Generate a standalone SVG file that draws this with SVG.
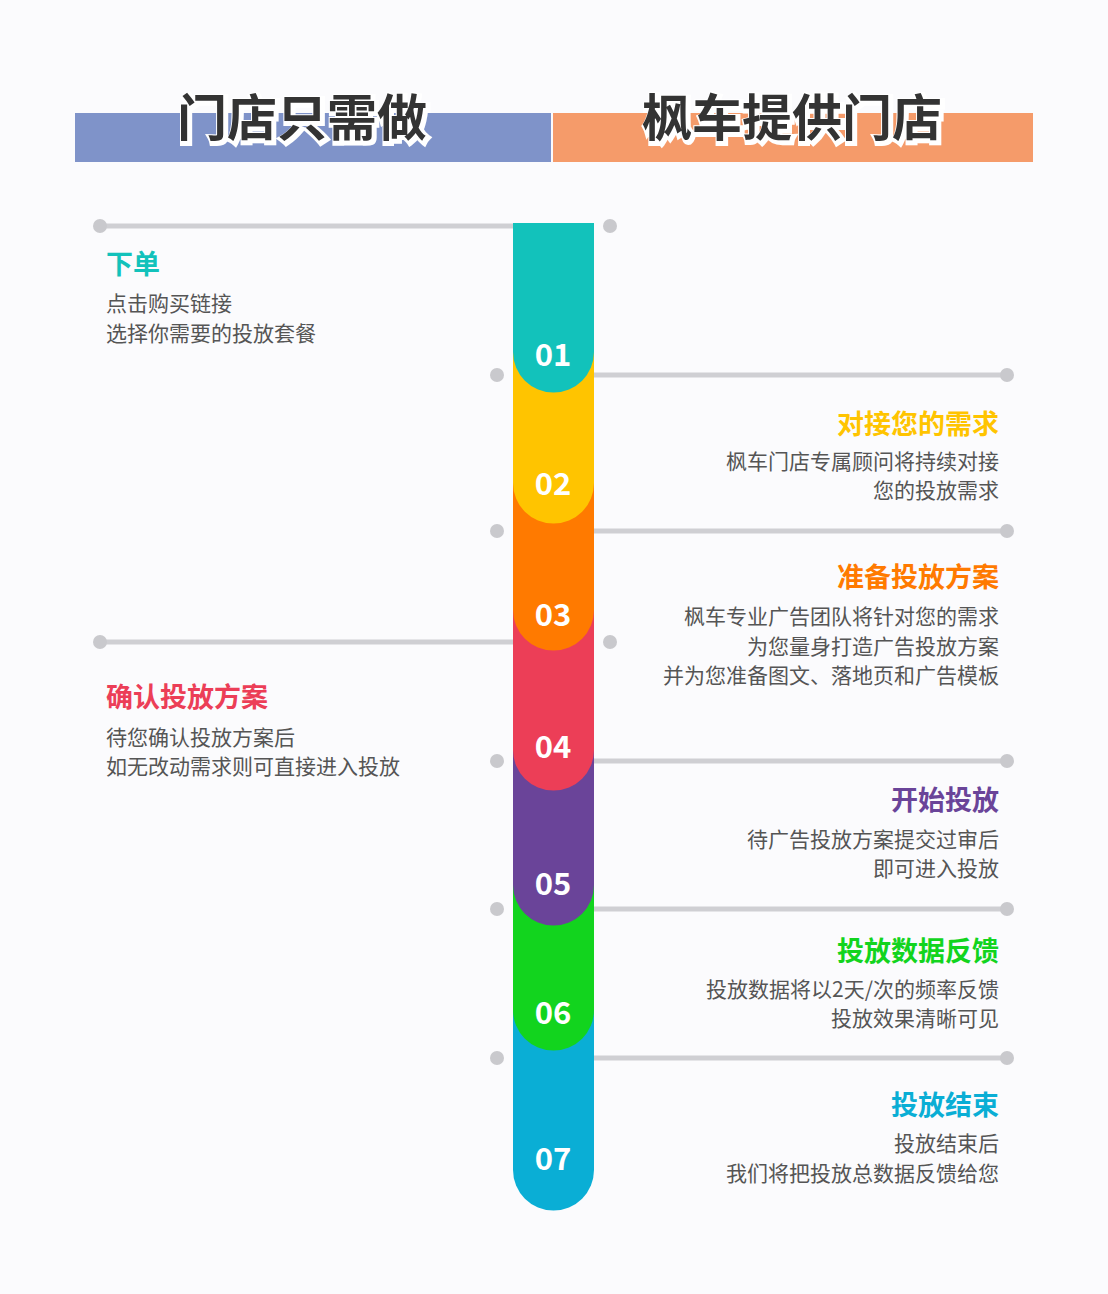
<svg xmlns="http://www.w3.org/2000/svg" width="1108" height="1294" viewBox="0 0 1108 1294">
<style>
text{font-family:"Noto Sans CJK SC","Noto Sans",sans-serif}
.hd{font-size:50px;font-weight:bold;fill:#333;text-anchor:middle}
.num{font-size:31px;font-weight:bold;fill:#fff;text-anchor:middle}
.t{font-size:27px;font-weight:bold}
.b{font-size:21px;fill:#555}
.r{text-anchor:end}
.ln{stroke:#cfcfd3;stroke-width:5}
.dot{fill:#c9c9cd}
</style>
<rect width="1108" height="1294" fill="#fbfbfd"/>
<g id="header">
<rect x="75" y="113" width="476" height="49" fill="#7f93c9"/>
<rect x="553" y="113" width="480" height="49" fill="#f59b6a"/>
<text class="hd" x="304" y="138" fill="#fff" stroke="#fff" stroke-width="6">门店只需做</text>
<text class="hd" x="302" y="136">门店只需做</text>
<text class="hd" x="794" y="138" stroke="#fff" stroke-width="6">枫车提供门店</text>
<text class="hd" x="792" y="136">枫车提供门店</text>
</g>
<g id="connectors">
<line class="ln" x1="100" y1="226" x2="513" y2="226"/><circle class="dot" cx="100" cy="226" r="7"/><circle class="dot" cx="610" cy="226" r="7"/>
<line class="ln" x1="594" y1="375" x2="1007" y2="375"/><circle class="dot" cx="1007" cy="375" r="7"/><circle class="dot" cx="497" cy="375" r="7"/>
<line class="ln" x1="594" y1="531" x2="1007" y2="531"/><circle class="dot" cx="1007" cy="531" r="7"/><circle class="dot" cx="497" cy="531" r="7"/>
<line class="ln" x1="100" y1="642" x2="513" y2="642"/><circle class="dot" cx="100" cy="642" r="7"/><circle class="dot" cx="610" cy="642" r="7"/>
<line class="ln" x1="594" y1="761" x2="1007" y2="761"/><circle class="dot" cx="1007" cy="761" r="7"/><circle class="dot" cx="497" cy="761" r="7"/>
<line class="ln" x1="594" y1="909" x2="1007" y2="909"/><circle class="dot" cx="1007" cy="909" r="7"/><circle class="dot" cx="497" cy="909" r="7"/>
<line class="ln" x1="594" y1="1058" x2="1007" y2="1058"/><circle class="dot" cx="1007" cy="1058" r="7"/><circle class="dot" cx="497" cy="1058" r="7"/>
</g>
<g id="column">
<path d="M513 990 V1170 A40.5 40.5 0 0 0 594 1170 V990Z" fill="#0aaed5"/>
<path d="M513 860 V1010 A40.5 40.5 0 0 0 594 1010 V860Z" fill="#12d41e"/>
<path d="M513 730 V885 A40.5 40.5 0 0 0 594 885 V730Z" fill="#6a4499"/>
<path d="M513 600 V750 A40.5 40.5 0 0 0 594 750 V600Z" fill="#ec3e57"/>
<path d="M513 470 V610 A40.5 40.5 0 0 0 594 610 V470Z" fill="#ff7a00"/>
<path d="M513 340 V483 A40.5 40.5 0 0 0 594 483 V340Z" fill="#ffc400"/>
<path d="M513 223 V352 A40.5 40.5 0 0 0 594 352 V223Z" fill="#12c2bb"/>
<text class="num" x="553" y="366">01</text>
<text class="num" x="553" y="495">02</text>
<text class="num" x="553" y="626">03</text>
<text class="num" x="553" y="758">04</text>
<text class="num" x="553" y="895">05</text>
<text class="num" x="553" y="1024">06</text>
<text class="num" x="553" y="1170">07</text>
</g>
<g id="s1"><text class="t" x="106" y="274" fill="#12c2bb">下单</text>
<text class="b" x="106" y="311">点击购买链接</text><text class="b" x="106" y="341">选择你需要的投放套餐</text></g>
<g id="s2"><text class="t r" x="999" y="434" fill="#ffc400">对接您的需求</text>
<text class="b r" x="999" y="469">枫车门店专属顾问将持续对接</text><text class="b r" x="999" y="498">您的投放需求</text></g>
<g id="s3"><text class="t r" x="999" y="587" fill="#ff7a00">准备投放方案</text>
<text class="b r" x="999" y="624">枫车专业广告团队将针对您的需求</text><text class="b r" x="999" y="654">为您量身打造广告投放方案</text><text class="b r" x="999" y="683">并为您准备图文、落地页和广告模板</text></g>
<g id="s4"><text class="t" x="106" y="707" fill="#ec3e57">确认投放方案</text>
<text class="b" x="106" y="745">待您确认投放方案后</text><text class="b" x="106" y="774">如无改动需求则可直接进入投放</text></g>
<g id="s5"><text class="t r" x="999" y="810" fill="#6a4499">开始投放</text>
<text class="b r" x="999" y="847">待广告投放方案提交过审后</text><text class="b r" x="999" y="876">即可进入投放</text></g>
<g id="s6"><text class="t r" x="999" y="961" fill="#12d41e">投放数据反馈</text>
<text class="b r" x="999" y="997">投放数据将以2天/次的频率反馈</text><text class="b r" x="999" y="1026">投放效果清晰可见</text></g>
<g id="s7"><text class="t r" x="999" y="1115" fill="#0aaed5">投放结束</text>
<text class="b r" x="999" y="1151">投放结束后</text><text class="b r" x="999" y="1181">我们将把投放总数据反馈给您</text></g>
</svg>
